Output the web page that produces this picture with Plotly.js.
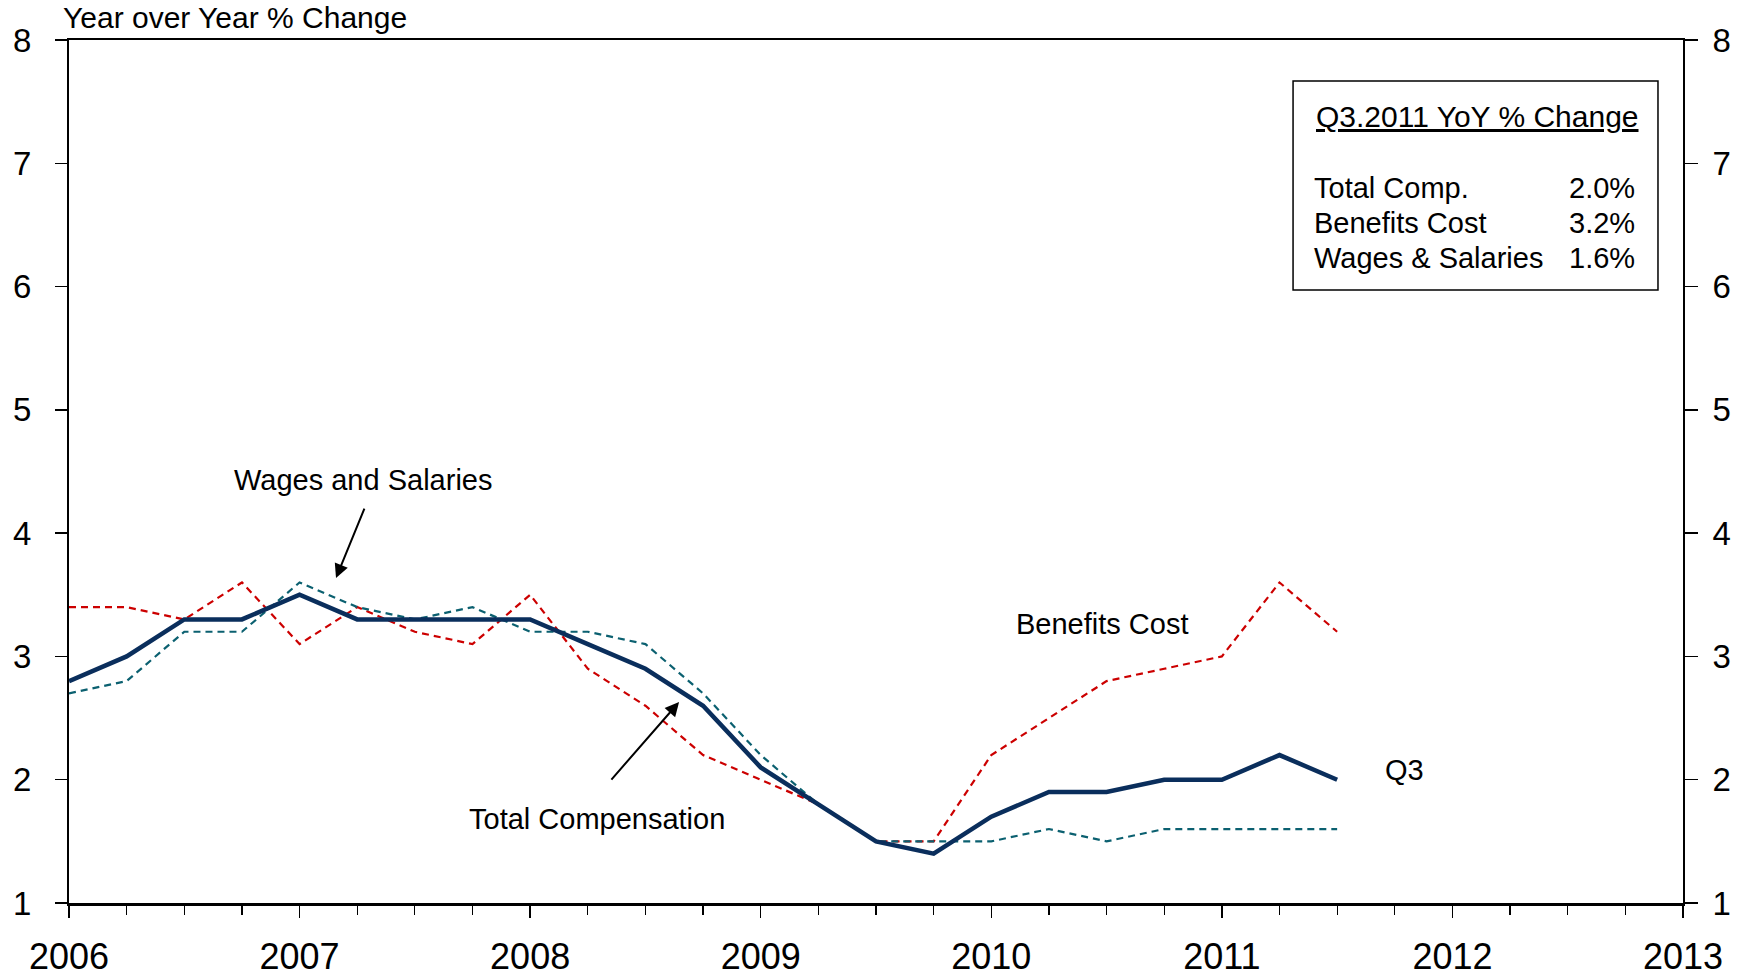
<!DOCTYPE html>
<html>
<head>
<meta charset="utf-8">
<script src="https://cdn.plot.ly/plotly-3.0.1.min.js"></script>
<style>html,body{margin:0;padding:0;background:#fff;}#chart{width:1754px;height:977px;}</style>
</head>
<body>
<div id="chart"></div>
<script>
// Quarterly observations, 2006 Q1 .. 2011 Q3 (decimal years)
const quarters = [2006.00, 2006.25, 2006.50, 2006.75,
                  2007.00, 2007.25, 2007.50, 2007.75,
                  2008.00, 2008.25, 2008.50, 2008.75,
                  2009.00, 2009.25, 2009.50, 2009.75,
                  2010.00, 2010.25, 2010.50, 2010.75,
                  2011.00, 2011.25, 2011.50];
const totalComp = [2.8, 3.0, 3.3, 3.3, 3.5, 3.3, 3.3, 3.3, 3.3, 3.1, 2.9, 2.6,
                   2.1, 1.8, 1.5, 1.4, 1.7, 1.9, 1.9, 2.0, 2.0, 2.2, 2.0];
const benefitsCost = [3.4, 3.4, 3.3, 3.6, 3.1, 3.4, 3.2, 3.1, 3.5, 2.9, 2.6, 2.2,
                      2.0, 1.8, 1.5, 1.5, 2.2, 2.5, 2.8, 2.9, 3.0, 3.6, 3.2];
const wagesSalaries = [2.7, 2.8, 3.2, 3.2, 3.6, 3.4, 3.3, 3.4, 3.2, 3.2, 3.1, 2.7,
                       2.2, 1.8, 1.5, 1.5, 1.5, 1.6, 1.5, 1.6, 1.6, 1.6, 1.6];
const yearTicks = [2006, 2007, 2008, 2009, 2010, 2011, 2012, 2013];
const yTicks = [1, 2, 3, 4, 5, 6, 7, 8];
const boxTitle = 'Q3.2011 YoY % Change';
const boxLabels = ['Total Comp.', 'Benefits Cost', 'Wages & Salaries'];

const FONT = 'Liberation Sans, Arial, sans-serif';
const last = a => a[a.length - 1].toFixed(1) + '%';
const boxValues = [last(totalComp), last(benefitsCost), last(wagesSalaries)];

const traces = [
  {x: quarters, y: benefitsCost, type: 'scatter', mode: 'lines', name: 'Benefits Cost',
   line: {color: '#cc0000', width: 2.2, dash: '7px,5px'}},
  {x: quarters, y: wagesSalaries, type: 'scatter', mode: 'lines', name: 'Wages and Salaries',
   line: {color: '#0b6070', width: 2.2, dash: '7px,5px'}},
  {x: quarters, y: totalComp, type: 'scatter', mode: 'lines', name: 'Total Compensation',
   line: {color: '#0a2e5c', width: 4.5}},
  {x: quarters, y: totalComp, type: 'scatter', mode: 'lines', yaxis: 'y2', showlegend: false,
   hoverinfo: 'skip', line: {color: 'rgba(0,0,0,0)', width: 0}}
];

const ANN = 29;
const annotations = [
  {xref: 'paper', yref: 'paper', x: -0.005, y: 1.026, xanchor: 'left', yanchor: 'middle',
   text: 'Year over Year % Change', showarrow: false, font: {family: FONT, size: 30, color: '#000'}},
  {x: 2007.275, y: 4.43, text: 'Wages and Salaries', showarrow: false,
   font: {family: FONT, size: ANN, color: '#000'}},
  {x: 2007.158, y: 3.636, ax: 29, ay: -71, text: '', showarrow: true, arrowhead: 2,
   arrowsize: 1.4, arrowwidth: 2, arrowcolor: '#000', standoff: 0},
  {x: 2008.29, y: 1.682, text: 'Total Compensation', showarrow: false,
   font: {family: FONT, size: ANN, color: '#000'}},
  {x: 2008.646, y: 2.63, ax: -69, ay: 79, text: '', showarrow: true, arrowhead: 2,
   arrowsize: 1.4, arrowwidth: 2, arrowcolor: '#000', standoff: 0},
  {x: 2010.48, y: 3.263, text: 'Benefits Cost', showarrow: false,
   font: {family: FONT, size: ANN, color: '#000'}},
  {x: 2011.794, y: 2.079, text: 'Q3', showarrow: false,
   font: {family: FONT, size: ANN, color: '#000'}},
  {xref: 'paper', yref: 'paper', x: 0.8724, y: 0.9108, xanchor: 'center', yanchor: 'middle',
   text: '<u>' + boxTitle + '</u>', showarrow: false, font: {family: FONT, size: 30, color: '#000'}}
];
const rowY = [0.8285, 0.7879, 0.7474];
boxLabels.forEach((lab, i) => {
  annotations.push({xref: 'paper', yref: 'paper', x: 0.770, y: rowY[i], xanchor: 'left', yanchor: 'middle',
    text: lab, showarrow: false, font: {family: FONT, size: ANN, color: '#000'}});
  annotations.push({xref: 'paper', yref: 'paper', x: 0.9715, y: rowY[i], xanchor: 'right', yanchor: 'middle',
    text: boxValues[i], showarrow: false, font: {family: FONT, size: ANN, color: '#000'}});
});

const layout = {
  width: 1754, height: 977,
  margin: {l: 69, r: 71, t: 40, b: 74, pad: 0},
  paper_bgcolor: '#fff', plot_bgcolor: '#fff',
  showlegend: false,
  font: {family: FONT, color: '#000'},
  xaxis: {
    range: [2006, 2013], tickvals: yearTicks, ticktext: yearTicks.map(String),
    showgrid: false, zeroline: false, showline: true, linecolor: '#000', linewidth: 2.5,
    mirror: true, ticks: 'outside', ticklen: 12, tickwidth: 1.5, tickcolor: '#000',
    tickfont: {family: FONT, size: 36, color: '#000'}, ticklabelstandoff: 8,
    minor: {dtick: 0.25, tick0: 2006, ticks: 'outside', ticklen: 9, tickwidth: 1.2, tickcolor: '#000', showgrid: false}
  },
  yaxis: {
    range: [1, 8], tickvals: yTicks, showgrid: false, zeroline: false,
    showline: true, linecolor: '#000', linewidth: 2,
    ticks: 'outside', ticklen: 12, tickwidth: 1.5, tickcolor: '#000',
    tickfont: {family: FONT, size: 33, color: '#000'}, ticklabelstandoff: 17
  },
  yaxis2: {
    range: [1, 8], tickvals: yTicks, overlaying: 'y', side: 'right', showgrid: false, zeroline: false,
    showline: true, linecolor: '#000', linewidth: 2,
    ticks: 'outside', ticklen: 13, tickwidth: 1.5, tickcolor: '#000',
    tickfont: {family: FONT, size: 33, color: '#000'}, ticklabelstandoff: 8
  },
  shapes: [
    {type: 'rect', xref: 'paper', yref: 'paper', x0: 0.7584, x1: 0.9845, y0: 0.7103, y1: 0.9525,
     line: {color: '#000', width: 1.5}, fillcolor: 'rgba(0,0,0,0)'}
  ],
  annotations: annotations
};

Plotly.newPlot('chart', traces, layout, {displayModeBar: false, staticPlot: true});
</script>
</body>
</html>
